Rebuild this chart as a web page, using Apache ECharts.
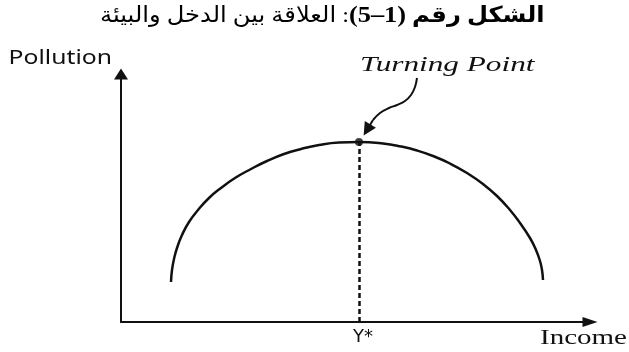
<!DOCTYPE html>
<html>
<head>
<meta charset="utf-8">
<script src="https://cdn.jsdelivr.net/npm/echarts@6/dist/echarts.min.js"></script>
<style>
  html, body { margin: 0; padding: 0; background: #fff; }
  #chart { width: 629px; height: 352px; }
</style>
</head>
<body>
<div id="chart"></div>
<script>
// EKC curve: pollution vs income (arbitrary units)
const incomeX = [50, 51, 53, 56, 61, 68, 77, 88, 100, 114, 130, 146, 163, 180, 198, 218, 238,
                 262, 280, 296, 312, 329, 346, 362, 376, 389, 399, 409, 415, 419, 421, 422];
const pollutionY = [40, 52, 63, 74, 87, 100, 112, 124, 134, 144, 153, 161, 168, 173, 177, 179.5, 180,
                    178.5, 175.5, 171.5, 166, 158.5, 149, 138, 126, 112, 99, 84, 72, 61, 52, 42];

// turning point Y*
const turningPoint = [238, 180];

// curved pointer from the "Turning Point" label down to the peak
const pointerX = [296, 294, 290, 284, 276, 268, 259, 252];
const pointerY = [244, 235, 227, 221, 217, 214, 209, 202];
const pointerTip = [246, 192];

const titleParts = ["العلاقة بين الدخل والبيئة ", ":", "(5–1)", " الشكل رقم"];
const axisNames = { x: "Income", y: "Pollution" };
const turningLabel = "Turning Point";
const yStarLabel = "Y*";

const chart = echarts.init(document.getElementById("chart"));

const ink = "#111";

chart.setOption({
  backgroundColor: "#fff",
  animation: false,
  grid: { left: 121, right: 39, top: 74, bottom: 30 },
  xAxis: {
    type: "value",
    min: 0,
    max: 469,
    splitLine: { show: false },
    axisTick: { show: false },
    axisLabel: { show: false },
    axisLine: {
      lineStyle: { color: ink, width: 2 },
      symbol: ["none", "triangle"],
      symbolSize: [10, 15]
    }
  },
  yAxis: {
    type: "value",
    min: 0,
    max: 248,
    splitLine: { show: false },
    axisTick: { show: false },
    axisLabel: { show: false },
    axisLine: {
      lineStyle: { color: ink, width: 2 },
      symbol: ["none", "triangle"],
      symbolSize: [14, 11]
    }
  },
  graphic: [
    {
      type: "text",
      x: 100,
      y: 16,
      scaleX: 1.1,
      style: {
        text: `{r|${titleParts[0]}}{r|${titleParts[1]}}{d|${titleParts[2]}}{b|${titleParts[3]}}`,
        align: "left",
        verticalAlign: "middle",
        rich: {
          r: { fontSize: 22, fontFamily: "'Liberation Serif', 'DejaVu Sans', serif", color: ink },
          d: { fontSize: 24, fontWeight: "bold", fontFamily: "'Liberation Serif', serif", color: ink },
          b: { fontSize: 22, fontWeight: "bold", fontFamily: "'Liberation Serif', 'DejaVu Sans', serif", color: ink }
        }
      }
    },
    {
      type: "text",
      x: 112,
      y: 59,
      scaleX: 1.3,
      style: {
        text: axisNames.y,
        font: "19px 'Noto Sans', sans-serif",
        fill: ink,
        align: "right",
        verticalAlign: "middle"
      }
    },
    {
      type: "text",
      x: 540,
      y: 339,
      scaleX: 1.45,
      style: {
        text: axisNames.x,
        font: "20px 'Liberation Serif', serif",
        fill: ink,
        align: "left",
        verticalAlign: "middle"
      }
    },
    {
      type: "text",
      x: 360,
      y: 65,
      scaleX: 1.42,
      style: {
        text: turningLabel,
        font: "italic 22px 'Liberation Serif', serif",
        fill: ink,
        align: "left",
        verticalAlign: "middle"
      }
    }
  ],
  series: [
    {
      name: "EKC",
      type: "line",
      smooth: 0.5,
      symbol: "none",
      data: incomeX.map((x, i) => [x, pollutionY[i]]),
      lineStyle: { color: ink, width: 2.5 },
      markLine: {
        silent: true,
        symbol: ["none", "none"],
        lineStyle: { color: ink, width: 2.5, type: [5, 3] },
        label: {
          show: true,
          position: "start",
          formatter: yStarLabel,
          distance: 6,
          padding: [0, 0, 0, 8],
          fontSize: 18,
          fontFamily: "'DejaVu Sans', sans-serif",
          color: ink
        },
        data: [[{ coord: [turningPoint[0], 0] }, { coord: turningPoint }]]
      }
    },
    {
      name: "Turning point",
      type: "scatter",
      symbolSize: 8,
      itemStyle: { color: ink },
      data: [turningPoint]
    },
    {
      name: "Pointer",
      type: "line",
      smooth: 0.4,
      symbol: "none",
      data: pointerX.map((x, i) => [x, pointerY[i]]),
      lineStyle: { color: ink, width: 2 },
      markLine: {
        silent: true,
        symbol: ["none", "triangle"],
        symbolSize: 13,
        lineStyle: { color: ink, width: 2, type: "solid" },
        label: { show: false },
        data: [[{ coord: [pointerX[pointerX.length - 1], pointerY[pointerY.length - 1]] }, { coord: pointerTip }]]
      }
    }
  ]
});
</script>
</body>
</html>
